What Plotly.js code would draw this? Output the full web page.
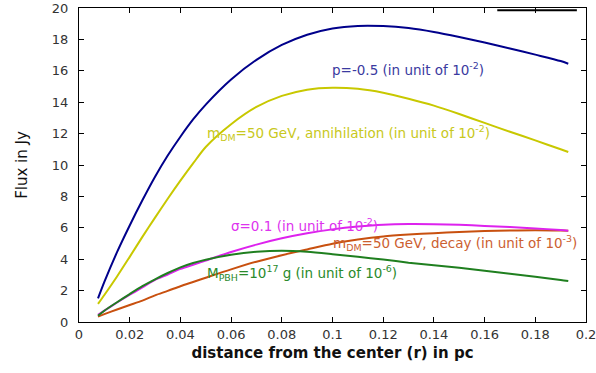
<!DOCTYPE html>
<html>
<head>
<meta charset="utf-8">
<script src="https://cdn.plot.ly/plotly-3.0.1.min.js"></script>
<style>html,body{margin:0;padding:0;background:#fff;}#chart{width:596px;height:373px;}</style>
</head>
<body>
<div id="chart"></div>
<script>
const r = [0.0075, 0.01, 0.015, 0.02, 0.025, 0.03, 0.035, 0.04, 0.045, 0.05, 0.06, 0.07, 0.08, 0.09, 0.1, 0.11, 0.12, 0.13, 0.14, 0.15, 0.16, 0.17, 0.18, 0.19, 0.193];
const fluxP = [1.5, 2.55, 4.45, 6.15, 7.75, 9.25, 10.6, 11.8, 12.9, 13.85, 15.45, 16.7, 17.65, 18.3, 18.7, 18.86, 18.85, 18.72, 18.47, 18.15, 17.8, 17.42, 17.03, 16.62, 16.45];
const fluxAnn = [1.15, 1.72, 2.9, 4.15, 5.42, 6.65, 7.85, 9.0, 10.1, 11.15, 12.6, 13.7, 14.4, 14.8, 14.92, 14.85, 14.6, 14.22, 13.78, 13.25, 12.68, 12.12, 11.57, 11.0, 10.83];
const fluxSigma = [0.45, 0.72, 1.24, 1.74, 2.2, 2.68, 3.02, 3.38, 3.65, 3.92, 4.46, 4.93, 5.33, 5.65, 5.9, 6.08, 6.2, 6.24, 6.23, 6.19, 6.12, 6.05, 5.96, 5.86, 5.82];
const fluxPBH = [0.4, 0.72, 1.26, 1.78, 2.28, 2.72, 3.12, 3.48, 3.76, 3.97, 4.28, 4.47, 4.54, 4.47, 4.32, 4.15, 3.98, 3.78, 3.62, 3.45, 3.26, 3.07, 2.88, 2.68, 2.61];
const fluxDecay = [0.34, 0.5, 0.8, 1.08, 1.36, 1.7, 1.98, 2.28, 2.55, 2.82, 3.35, 3.84, 4.25, 4.62, 4.98, 5.25, 5.45, 5.57, 5.66, 5.73, 5.79, 5.83, 5.85, 5.83, 5.82];

const xTicks = [0, 0.02, 0.04, 0.06, 0.08, 0.1, 0.12, 0.14, 0.16, 0.18, 0.2];
const xTickText = ["0", "0.02", "0.04", "0.06", "0.08", "0.1", "0.12", "0.14", "0.16", "0.18", "0.2"];

const labels = [
  {text: "p=-0.5 (in unit of 10<sup>-2</sup>)", x: 0.099, y: 16.1, color: "#3a3aa0"},
  {text: "m<sub>DM</sub>=50 GeV, annihilation (in unit of 10<sup>-2</sup>)", x: 0.0498, y: 12.07, color: "#c8c820"},
  {text: "σ=0.1 (in unit of 10<sup>-2</sup>)", x: 0.059, y: 6.15, color: "#dd33ee"},
  {text: "m<sub>DM</sub>=50 GeV, decay (in unit of 10<sup>-3</sup>)", x: 0.0995, y: 5.05, color: "#cc6030"},
  {text: "M<sub>PBH</sub>=10<sup>17</sup> g (in unit of 10<sup>-6</sup>)", x: 0.0498, y: 3.1, color: "#2a8a2a"}
];

const FONT = "DejaVu Sans, Liberation Sans, sans-serif";
const lw = 2;
const traces = [
  {x: r, y: fluxP, color: "#00008b"},
  {x: r, y: fluxAnn, color: "#c8c800"},
  {x: r, y: fluxDecay, color: "#c8500f"},
  {x: r, y: fluxSigma, color: "#dd22ee"},
  {x: r, y: fluxPBH, color: "#1f7f1f"}
].map(t => ({x: t.x, y: t.y, type: "scatter", mode: "lines", line: {color: t.color, width: lw, shape: "spline", smoothing: 0.8}, hoverinfo: "skip"}));

const layout = {
  width: 596, height: 373,
  margin: {l: 79, r: 10, t: 8, b: 51},
  paper_bgcolor: "#fff", plot_bgcolor: "#fff",
  showlegend: false,
  font: {family: FONT, size: 13, color: "#333"},
  xaxis: {
    range: [0, 0.2], tickvals: xTicks, ticktext: xTickText,
    ticks: "inside", ticklen: 5, tickcolor: "#000", mirror: "ticks",
    showline: true, linecolor: "#000", linewidth: 1, showgrid: false, zeroline: false,
    ticklabeloverflow: "allow",
    tickfont: {family: FONT, size: 13, color: "#333"},
    title: {text: "<b>distance from the center (r) in pc</b>", font: {family: FONT, size: 15, color: "#111"}, standoff: 6}
  },
  yaxis: {
    range: [0, 20], dtick: 2,
    ticks: "inside", ticklen: 5, tickcolor: "#000", mirror: "ticks",
    showline: true, linecolor: "#000", linewidth: 1, showgrid: false, zeroline: false,
    ticklabelstandoff: 7, ticklabeloverflow: "allow",
    tickfont: {family: FONT, size: 13, color: "#333"},
    title: {text: "Flux in Jy", font: {family: FONT, size: 15, color: "#111"}, standoff: 20}
  },
  shapes: [
    {type: "line", xref: "paper", yref: "paper", x0: 0.825, x1: 0.982, y0: 0.993, y1: 0.993, line: {color: "#000", width: 2}}
  ],
  annotations: labels.map(l => ({
    text: l.text, x: l.x, y: l.y, xref: "x", yref: "y",
    xanchor: "left", yanchor: "middle", showarrow: false,
    font: {family: FONT, size: 13.5, color: l.color}
  }))
};

Plotly.newPlot("chart", traces, layout, {staticPlot: true, displayModeBar: false});
</script>
</body>
</html>
